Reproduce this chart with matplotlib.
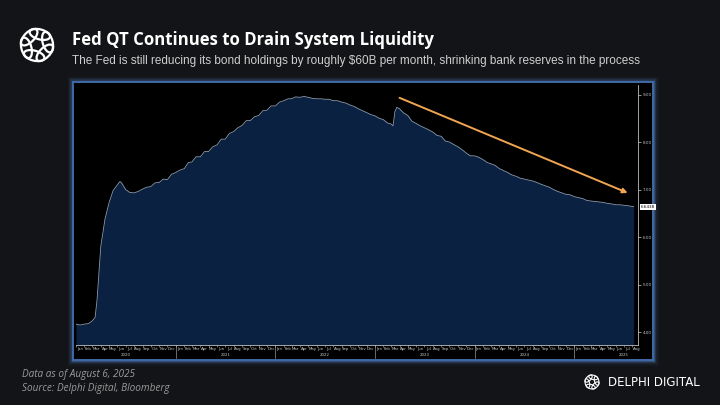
import matplotlib
matplotlib.use("Agg")
import matplotlib.pyplot as plt
from matplotlib.patches import Ellipse, Rectangle
from matplotlib.transforms import blended_transform_factory
import numpy as np
import pandas as pd

# Fed total assets, USD trillions
dates_2020 = ["2020-01-01", "2020-01-16", "2020-02-01", "2020-02-16", "2020-03-01", "2020-03-11",
              "2020-03-18", "2020-03-25", "2020-04-01", "2020-04-16", "2020-05-01", "2020-05-16",
              "2020-06-01", "2020-06-10", "2020-06-16", "2020-07-01", "2020-07-16", "2020-08-01",
              "2020-08-16", "2020-09-01", "2020-09-16", "2020-10-01", "2020-10-16", "2020-11-01",
              "2020-11-16", "2020-12-01", "2020-12-16"]
assets_2020 = [4.17, 4.15, 4.17, 4.18, 4.24, 4.31, 4.67, 5.25, 5.81, 6.37, 6.72, 6.98,
               7.10, 7.17, 7.14, 7.00, 6.94, 6.93, 6.96, 7.01, 7.05, 7.06, 7.14, 7.15,
               7.22, 7.21, 7.32]
assets_2021 = [7.36, 7.41, 7.44, 7.57, 7.58, 7.69, 7.69, 7.80, 7.80, 7.90, 7.94, 8.06,
               8.06, 8.18, 8.22, 8.30, 8.35, 8.45, 8.45, 8.53, 8.56, 8.66, 8.67, 8.76]
assets_2022 = [8.76, 8.84, 8.87, 8.91, 8.91, 8.95, 8.94, 8.96, 8.94, 8.92, 8.91, 8.91,
               8.90, 8.90, 8.87, 8.87, 8.84, 8.82, 8.78, 8.75, 8.70, 8.66, 8.62, 8.58]
dates_2023 = ["2023-01-01", "2023-01-16", "2023-02-01", "2023-02-16", "2023-03-01", "2023-03-08",
              "2023-03-15", "2023-03-22", "2023-04-01", "2023-04-16", "2023-05-01", "2023-05-16",
              "2023-06-01", "2023-06-16", "2023-07-01", "2023-07-16", "2023-08-01", "2023-08-16",
              "2023-09-01", "2023-09-16", "2023-10-01", "2023-10-16", "2023-11-01", "2023-11-16",
              "2023-12-01", "2023-12-16"]
assets_2023 = [8.55, 8.50, 8.47, 8.40, 8.38, 8.34, 8.64, 8.73, 8.70, 8.61, 8.56, 8.44,
               8.39, 8.34, 8.30, 8.26, 8.21, 8.14, 8.12, 8.02, 8.00, 7.95, 7.90, 7.84,
               7.77, 7.71]
assets_2024 = [7.71, 7.68, 7.63, 7.57, 7.54, 7.51, 7.44, 7.40, 7.36, 7.31, 7.28, 7.24,
               7.22, 7.20, 7.18, 7.15, 7.11, 7.08, 7.05, 7.00, 6.96, 6.93, 6.90, 6.89]
assets_2025 = [6.85, 6.83, 6.81, 6.77, 6.76, 6.75, 6.74, 6.73, 6.71, 6.70, 6.68, 6.68,
               6.67, 6.66, 6.64]


def semi_monthly(year, n):
    out = []
    for m in range(1, 13):
        out += [f"{year}-{m:02d}-01", f"{year}-{m:02d}-16"]
    return out[:n]


dates_2025 = semi_monthly(2025, 14) + ["2025-08-06"]

dates = pd.to_datetime(dates_2020 + semi_monthly(2021, 24) + semi_monthly(2022, 24)
                       + dates_2023 + semi_monthly(2024, 24) + dates_2025)
assets = assets_2020 + assets_2021 + assets_2022 + assets_2023 + assets_2024 + assets_2025

y_ticks = [4, 5, 6, 7, 8, 9]
months = ["Jan", "Feb", "Mar", "Apr", "May", "Jun", "Jul", "Aug", "Sep", "Oct", "Nov", "Dec"]
years = [2020, 2021, 2022, 2023, 2024, 2025]
last_label = "6.6438"

# trend arrow (data space)
arrow_start = ("2023-04-01", 8.93)
arrow_end = ("2025-07-15", 6.93)

BG = "#131417"
FILL = "#0b2142"
LINE = "#8a9cb0"
TXT = "#c8c8c8"

fig = plt.figure(figsize=(7.2, 4.05), dpi=100)
fig.patch.set_facecolor(BG)


def draw_logo(rect, lw):
    lax = fig.add_axes(rect)
    lax.set_xlim(-1.15, 1.15)
    lax.set_ylim(-1.15, 1.15)
    lax.set_aspect("equal")
    lax.axis("off")
    for k in range(6):
        ang = k * 60 + 15
        cx = 0.55 * np.cos(np.radians(ang))
        cy = 0.55 * np.sin(np.radians(ang))
        lax.add_patch(Ellipse((cx, cy), 1.05, 0.5, angle=ang + 90,
                              fill=False, ec="white", lw=lw))


# header
draw_logo([14 / 720, 1 - 68 / 405, 46 / 720, 46 / 405], 1.6)
fig.text(72 / 720, 1 - 40 / 405, "Fed QT Continues to Drain System Liquidity",
         color="white", fontsize=12.1, fontweight="bold", family="Open Sans", va="center")
fig.text(72 / 720, 1 - 61 / 405,
         "The Fed is still reducing its bond holdings by roughly $60B per month, "
         "shrinking bank reserves in the process",
         color="#cfcfcf", fontsize=8.45, family="Liberation Sans", va="center")

# chart panel with blue glow
px0, px1 = 73 / 720, 653 / 720
py0, py1 = 1 - 360 / 405, 1 - 82 / 405
for w, a in [(8, 0.06), (6, 0.1), (4, 0.18), (2.5, 0.35)]:
    fig.patches.append(Rectangle((px0, py0), px1 - px0, py1 - py0, transform=fig.transFigure,
                                 fill=False, ec="#4d7cc0", lw=w, alpha=a, zorder=-3))
fig.patches.append(Rectangle((px0, py0), px1 - px0, py1 - py0, transform=fig.transFigure,
                             fc="black", ec="#3f6aa8", lw=1.4, zorder=-2))

ax = fig.add_axes([76 / 720, 1 - 345 / 405, 562 / 720, 260 / 405])
ax.set_facecolor("black")
ax.fill_between(dates, assets, 3.0, color=FILL, lw=0)
ax.plot(dates, assets, color=LINE, lw=0.6)
ax.set_xlim(pd.Timestamp("2020-01-01"), pd.Timestamp("2025-08-22"))
ax.set_ylim(3.73, 9.2)

for s in ["top", "left"]:
    ax.spines[s].set_visible(False)
for s in ["right", "bottom"]:
    ax.spines[s].set_color("#bdbdbd")
    ax.spines[s].set_linewidth(0.6)

ax.yaxis.tick_right()
ax.set_yticks(y_ticks)
ax.set_yticklabels([f"{v:.2f}" for v in y_ticks])
ax.tick_params(axis="y", colors=TXT, labelsize=3, length=2, width=0.5, pad=1.5)

# month labels in the middle of each month, year labels below
mids, labels, starts = [], [], []
for y in years:
    for m in range(1, 13):
        start = pd.Timestamp(year=y, month=m, day=1)
        if start > pd.Timestamp("2025-08-01"):
            break
        starts.append(start)
        mids.append(start + pd.Timedelta(days=15))
        labels.append(months[m - 1])
ax.set_xticks(mids)
ax.set_xticklabels(labels)
ax.set_xticks(starts, minor=True)
ax.tick_params(axis="x", which="major", colors=TXT, labelsize=2.8, length=0, pad=1.5)
ax.tick_params(axis="x", which="minor", color="#bdbdbd", length=1.2, width=0.4)

tr = blended_transform_factory(ax.transData, ax.transAxes)
for y in years:
    ax.text(pd.Timestamp(year=y, month=7, day=1), -0.038, str(y), transform=tr,
            color=TXT, fontsize=2.8, ha="center", va="center")
    if y > 2020:
        ax.plot([pd.Timestamp(year=y, month=1, day=1)] * 2, [0, -0.05], transform=tr,
                color="#bdbdbd", lw=0.4, clip_on=False)

# last value tag
ax.annotate(last_label, xy=(1.0, assets[-1]), xycoords=("axes fraction", "data"),
            xytext=(2, 0), textcoords="offset points", fontsize=3, color="black",
            va="center", ha="left",
            bbox=dict(boxstyle="square,pad=0.25", fc="white", ec="none"))

# trend arrow
ax.annotate("", xy=(pd.Timestamp(arrow_end[0]), arrow_end[1]),
            xytext=(pd.Timestamp(arrow_start[0]), arrow_start[1]),
            arrowprops=dict(arrowstyle="-|>", color="#f0a650", lw=1.4,
                            mutation_scale=7, shrinkA=0, shrinkB=0))

# footer
fig.text(22 / 720, 1 - 374 / 405, "Data as of August 6, 2025", color="#9a9a9a",
         fontsize=7.2, style="italic", family="Open Sans", va="center")
fig.text(22 / 720, 1 - 388 / 405, "Source: Delphi Digital, Bloomberg", color="#9a9a9a",
         fontsize=7.2, style="italic", family="Open Sans", va="center")
draw_logo([582 / 720, 1 - 392 / 405, 20 / 720, 20 / 405], 0.8)
fig.text(608 / 720, 1 - 382 / 405, "DELPHI DIGITAL", color="white", fontsize=8.5,
         family="DejaVu Sans", va="center")

fig.savefig("out.png", dpi=100, facecolor=BG)
